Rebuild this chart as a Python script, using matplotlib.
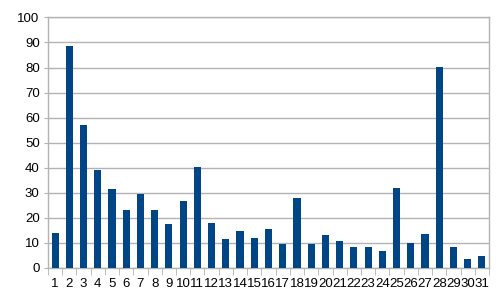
import matplotlib
matplotlib.use("Agg")
import matplotlib.pyplot as plt
import numpy as np

categories = [str(i) for i in range(1, 32)]
values = [14.0, 88.6, 57.1, 39.2, 31.5, 23.2, 29.7, 23.2, 17.4, 26.8,
          40.4, 17.8, 11.6, 14.6, 11.8, 15.4, 9.7, 27.9, 9.4, 13.3,
          10.9, 8.2, 8.4, 6.9, 31.7, 9.8, 13.7, 80.3, 8.5, 3.5, 4.9]
yticks = [0, 10, 20, 30, 40, 50, 60, 70, 80, 90, 100]

plt.rcParams['font.family'] = ['Liberation Sans', 'DejaVu Sans']

fig = plt.figure(figsize=(5, 3), dpi=100)
ax = fig.add_axes([0.096, 0.107, 0.882, 0.835])

x = np.arange(len(categories))
ax.bar(x, values, width=0.5, color='#004586', zorder=3)

ax.set_xlim(-0.5, len(categories) - 0.5)
ax.set_ylim(0, 100)
ax.set_yticks(yticks)
ax.set_yticklabels([str(v) for v in yticks], fontsize=9.5)
ax.set_xticks(x)
ax.set_xticklabels(categories, fontsize=9.5)
ax.set_xticks(np.arange(-0.5, len(categories), 1.0), minor=True)

ax.tick_params(axis='x', which='major', length=0, pad=7.5)
ax.tick_params(axis='x', which='minor', length=5, color='#b3b3b3', direction='out')
ax.tick_params(axis='y', which='major', length=3, color='#b3b3b3', pad=3)

ax.grid(axis='y', color='#b3b3b3', linewidth=1, zorder=0)
for s in ['top', 'right', 'left', 'bottom']:
    ax.spines[s].set_color('#b3b3b3')
    ax.spines[s].set_linewidth(1)

fig.savefig('out.png', dpi=100)
